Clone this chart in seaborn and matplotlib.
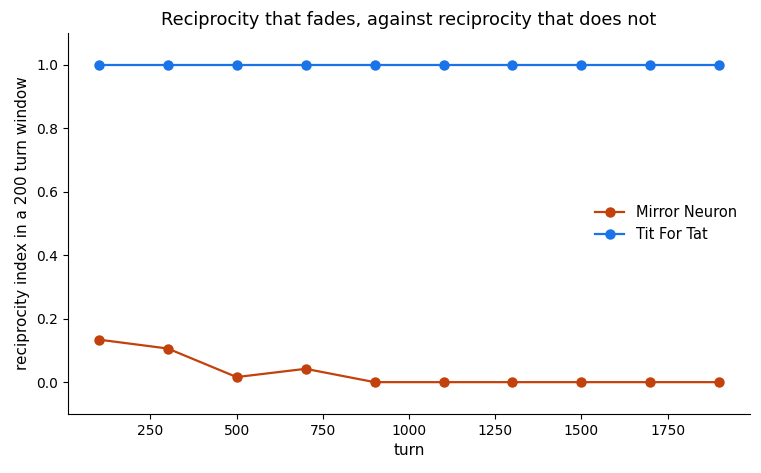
import matplotlib
matplotlib.use("Agg")
import matplotlib.pyplot as plt
import seaborn as sns
import pandas as pd

turns = [100, 300, 500, 700, 900, 1100, 1300, 1500, 1700, 1900]
mirror_neuron = [0.134, 0.106, 0.016, 0.042, 0.0, 0.0, 0.0, 0.0, 0.0, 0.0]
tit_for_tat = [1.0] * 10
series_names = ["Mirror Neuron", "Tit For Tat"]
colors = ["#c2410c", "#1a73e8"]

df = pd.DataFrame({
    "turn": turns * 2,
    "value": mirror_neuron + tit_for_tat,
    "strategy": [series_names[0]] * len(turns) + [series_names[1]] * len(turns),
})

plt.rcParams['font.family'] = ['DejaVu Sans']
fig, ax = plt.subplots(figsize=(7.61, 4.73), dpi=100)
sns.lineplot(data=df, x="turn", y="value", hue="strategy", palette=colors,
             marker="o", markersize=7.5, markeredgewidth=0, linewidth=1.6, ax=ax)
ax.set_ylim(-0.1, 1.1)
ax.set_xlabel("turn", fontsize=11)
ax.set_ylabel("reciprocity index in a 200 turn window", fontsize=11)
ax.set_title("Reciprocity that fades, against reciprocity that does not", fontsize=12.8)
sns.despine(ax=ax)
ax.legend(frameon=False, loc="center right", title=None, fontsize=10.5)
fig.subplots_adjust(left=0.089, right=0.986, top=0.930, bottom=0.125)
fig.savefig("out.png", dpi=100)
